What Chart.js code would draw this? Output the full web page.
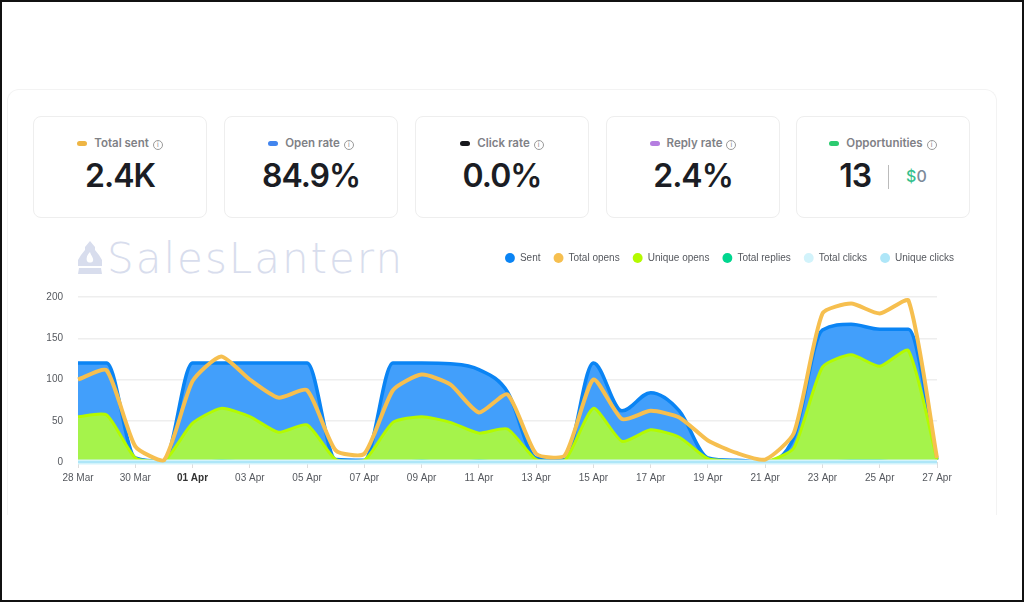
<!DOCTYPE html>
<html>
<head>
<meta charset="utf-8">
<script src="https://cdn.jsdelivr.net/npm/chart.js@4"></script>
<style>
    html, body { margin: 0; padding: 0; background: #fff; }
    body { width: 1024px; height: 602px; overflow: hidden; position: relative; font-family: Inter, sans-serif; }
    .frame { position: absolute; left: 0; top: 0; width: 1024px; height: 602px; box-sizing: border-box; border: 2px solid #111; pointer-events: none; z-index: 5; }
    .panel { position: absolute; left: 7px; top: 89px; width: 990px; height: 426px; box-sizing: border-box; border: 1px solid #f3f3f3; border-bottom: none; border-radius: 12px 12px 0 0; }
    .card { position: absolute; top: 116px; width: 174px; height: 102px; box-sizing: border-box; border: 1px solid #eeeeee; border-radius: 8px; text-align: center; }
    .label { position: absolute; left: 0; right: 0; top: 19px; font-size: 11.5px; font-weight: 600; color: #808186; line-height: 14px; white-space: nowrap; }
    .dash { display: inline-block; width: 10px; height: 5px; border-radius: 3px; margin-right: 7px; vertical-align: 1px; }
    .info { display: inline-block; width: 10px; height: 10px; box-sizing: border-box; border: 1px solid #9a9a9a; border-radius: 50%; margin-left: 4px; font-size: 7px; line-height: 8px; color: #888; font-weight: 400; vertical-align: 0; }
    .value { position: absolute; left: 0; right: 0; top: 39px; font-size: 32px; font-weight: 600; color: #1b1d24; line-height: 40px; letter-spacing: -1px; }
    .sep { display: inline-block; width: 1px; height: 24px; background: #bbb; margin: 0 17px 0 17px; vertical-align: -2px; }
    .money { font-size: 16px; font-weight: 500; color: #7c8a99; letter-spacing: 0; vertical-align: 5px; }
    .money b { color: #35c08c; font-weight: 500; }
    .brand { position: absolute; left: 107px; top: 232px; font-family: "DejaVu Sans", sans-serif; font-size: 42px; font-weight: 200; line-height: 54px; letter-spacing: 2px; color: #d8dded; white-space: nowrap; }
    .lantern { position: absolute; left: 78px; top: 241px; }
    #chartBox { position: absolute; left: 30px; top: 240px; width: 937px; height: 248px; }
</style>
</head>
<body>
<div class="panel"></div>

<div class="card" style="left:33px"><div class="label"><span class="dash" style="background:#eeb544"></span>Total sent<span class="info">i</span></div><div class="value">2.4K</div></div>
<div class="card" style="left:224px"><div class="label"><span class="dash" style="background:#4285ee"></span>Open rate<span class="info">i</span></div><div class="value">84.9%</div></div>
<div class="card" style="left:415px"><div class="label"><span class="dash" style="background:#17181c"></span>Click rate<span class="info">i</span></div><div class="value">0.0%</div></div>
<div class="card" style="left:606px"><div class="label"><span class="dash" style="background:#b57ee0"></span>Reply rate<span class="info">i</span></div><div class="value">2.4%</div></div>
<div class="card" style="left:796px"><div class="label"><span class="dash" style="background:#2ccb70"></span>Opportunities<span class="info">i</span></div><div class="value">13<span class="sep"></span><span class="money"><b>$</b>0</span></div></div>

<svg class="lantern" width="24" height="33" viewBox="0 0 24 33">
    <path d="M12 0 L17 6 L17 9 L21 14 L24 19 L24 25 L0 25 L0 19 L3 14 L7 9 L7 6 Z M12 11 C9 14 8 17 9 20 C10 22 14 22 15 20 C16 17 13 15 12 11 Z" fill="#d8dded" fill-rule="evenodd"/>
    <path d="M1 27 L23 27 L24 33 L0 33 Z" fill="#d8dded"/>
</svg>
<div class="brand">SalesLantern</div>

<div id="chartBox"><canvas id="statsChart"></canvas></div>
<div class="frame"></div>

<script>
const dates = ['28 Mar', '29 Mar', '30 Mar', '31 Mar', '01 Apr', '02 Apr', '03 Apr', '04 Apr', '05 Apr', '06 Apr', '07 Apr',
    '08 Apr', '09 Apr', '10 Apr', '11 Apr', '12 Apr', '13 Apr', '14 Apr', '15 Apr', '16 Apr', '17 Apr', '18 Apr', '19 Apr',
    '20 Apr', '21 Apr', '22 Apr', '23 Apr', '24 Apr', '25 Apr', '26 Apr', '27 Apr'];

const sent = [120, 120, 5, 1, 120, 120, 120, 120, 120, 3, 2, 120, 120, 119, 112, 85, 5, 3, 120, 62, 84, 62, 5, 2, 0, 30, 160, 167, 161, 161, 3];
const totalOpens = [100, 111, 19, 2, 98, 128, 100, 78, 87, 14, 10, 87, 106, 94, 60, 82, 10, 8, 100, 52, 62, 54, 26, 11, 3, 35, 180, 192, 180, 196, 5];
const uniqueOpens = [55, 57, 5, 1, 47, 65, 55, 36, 45, 3, 2, 48, 55, 48, 35, 40, 3, 2, 65, 25, 39, 30, 4, 1, 0, 17, 115, 130, 116, 135, 3];
const totalReplies = [0, 0, 0, 0, 0, 2, 1, 0, 0, 0, 0, 0, 2, 0, 2, 0, 0, 0, 1, 0, 0, 0, 0, 0, 0, 0, 1, 2, 2, 0, 0];
const totalClicks = [0, 0, 0, 0, 0, 0, 0, 0, 0, 0, 0, 0, 0, 0, 0, 0, 0, 0, 0, 0, 0, 0, 0, 0, 0, 0, 0, 0, 0, 0, 0];
const uniqueClicks = [0, 0, 0, 0, 0, 0, 0, 0, 0, 0, 0, 0, 0, 0, 0, 0, 0, 0, 0, 0, 0, 0, 0, 0, 0, 0, 0, 0, 0, 0, 0];

const yTicks = [0, 50, 100, 150, 200];

function makeSeries(label, data, line, fill, width, order) {
    return {
        label: label,
        data: data,
        borderColor: line,
        backgroundColor: fill,
        fill: fill !== 'transparent' ? 'origin' : false,
        borderWidth: width,
        pointRadius: 0,
        tension: 0.2,
        clip: 6,
        order: order
    };
}

// legend sits above the plot and runs past its right edge
const legendGap = {
    id: 'legendGap',
    beforeInit: function (c) {
        const fit = c.legend.fit;
        c.legend.fit = function () {
            fit.bind(c.legend)();
            c.legend.height += 24;
        };
    },
    afterLayout: function (c) {
        c.legend.right = c.width;
    }
};

const sentSeries = makeSeries('Sent', sent, '#0a84f4', '#429ffb', 3.5, 5);
sentSeries.cubicInterpolationMode = 'monotone'; // flat top, no overshoot at 120

const chart = new Chart(document.getElementById('statsChart').getContext('2d'), {
    type: 'line',
    plugins: [legendGap],
    data: {
        labels: dates,
        datasets: [
            sentSeries,
            makeSeries('Total opens', totalOpens, '#f6bf4f', 'transparent', 4, 0),
            makeSeries('Unique opens', uniqueOpens, '#b4fa00', '#a5f34b', 3, 4),
            makeSeries('Total replies', totalReplies, '#00d68f', '#00d68f', 1.5, 3),
            makeSeries('Total clicks', totalClicks, '#d2f3fb', '#d2f3fb', 5, 2),
            makeSeries('Unique clicks', uniqueClicks, '#aee6f8', '#aee6f8', 2, 1)
        ]
    },
    options: {
        responsive: true,
        maintainAspectRatio: false,
        animation: false,
        layout: { padding: { left: 0, right: 30, top: 0, bottom: 0 } },
        plugins: {
            tooltip: { enabled: false },
            legend: {
                position: 'top',
                align: 'end',
                labels: {
                    usePointStyle: true,
                    pointStyle: 'circle',
                    boxWidth: 10,
                    boxHeight: 7,
                    padding: 13,
                    color: '#55585e',
                    font: { family: 'Liberation Sans', size: 10 },
                    sort: function (a, b) { return a.datasetIndex - b.datasetIndex; },
                    generateLabels: function (c) {
                        return Chart.defaults.plugins.legend.labels.generateLabels(c).map(function (item) {
                            item.fillStyle = c.data.datasets[item.datasetIndex].borderColor;
                            item.lineWidth = 0;
                            return item;
                        });
                    }
                }
            }
        },
        scales: {
            x: {
                type: 'category',
                offset: false,
                afterBuildTicks: function (axis) {
                    axis.ticks = axis.ticks.filter(function (t) { return t.value % 2 === 0; });
                },
                grid: { drawOnChartArea: false, drawTicks: true, tickLength: 6, color: '#dddddd' },
                border: { display: false },
                ticks: {
                    autoSkip: false,
                    maxRotation: 0,
                    padding: 4,
                    color: function (ctx) { return dates[ctx.tick.value] === '01 Apr' ? '#333333' : '#55585e'; },
                    font: function (ctx) {
                        return { family: 'Liberation Sans', size: 10, weight: dates[ctx.tick.value] === '01 Apr' ? 'bold' : 'normal' };
                    },
                    callback: function (value) { return dates[value]; }
                }
            },
            y: {
                min: 0,
                max: 200,
                afterBuildTicks: function (axis) {
                    axis.ticks = yTicks.map(function (v) { return { value: v }; });
                },
                afterFit: function (axis) { axis.width = 48; },
                grid: { color: '#eeeeee', lineWidth: 1.5, drawTicks: false },
                border: { display: false },
                ticks: { padding: 15, color: '#55585e', font: { family: 'Liberation Sans', size: 10 } }
            }
        }
    }
});
</script>
</body>
</html>
